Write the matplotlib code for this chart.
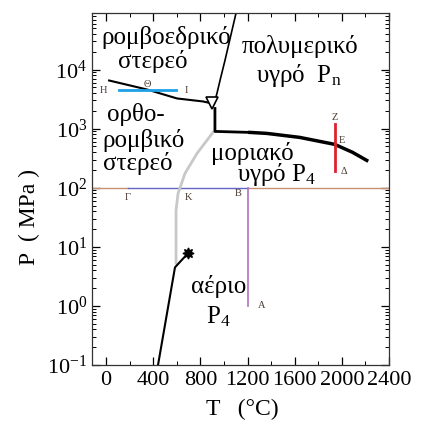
import numpy as np
import matplotlib
matplotlib.use('Agg')
import matplotlib.pyplot as plt
from matplotlib.ticker import MultipleLocator, LogLocator, NullFormatter

plt.rcParams['font.family'] = ['Liberation Serif', 'DejaVu Serif']
plt.rcParams['mathtext.fontset'] = 'custom'
plt.rcParams['mathtext.rm'] = 'Liberation Serif'
plt.rcParams['mathtext.it'] = 'Liberation Serif:italic'

# phase boundaries, T in degC, P in MPa
rhombo_T = [25, 347, 601, 822, 898]
rhombo_P = [6520, 4590, 3240, 2880, 2670]

poly_T = [1101, 1008, 966, 940, 923]
poly_P = [88300, 14200, 6520, 3940, 2990]

liq_T = [923, 923, 1220, 1364, 1643, 1940, 2092, 2211]
liq_P = [2190, 897, 863, 830, 710, 541, 396, 290]

grey_T = [906, 771, 669, 610, 593, 593]
grey_P = [863, 381, 175, 80, 41.5, 5.3]

vap_T = [440, 584, 695]
vap_P = [0.1, 4.5, 7.8]

triple_T, triple_P = 898, 2670
crit_T, crit_P = 695, 7.8

# path segments
cyan_T = [110, 593]
cyan_P = [4420, 4420]
iso_P = 100
iso_T1, iso_T2 = 186, 1200
vert_T = 1200
vert_P = [1, 100]
red_T = 1940
red_P = [189, 1180]

letters = ['Η', 'Θ', 'Ι', 'Γ', 'Κ', 'Β', 'Α', 'Ζ', 'Ε', 'Δ']
letters_T = [-25, 347, 678, 186, 695, 1118, 1321, 1940, 1999, 2016]
letters_P = [4420, 5580, 4420, 69, 69, 80, 1.0, 1545, 632, 189]

fig = plt.figure(figsize=(4.27, 4.23), dpi=100)
ax = fig.add_axes([0.2155, 0.137, 0.6955, 0.832])
ax.set_yscale('log')
ax.set_xlim(-120, 2400)
ax.set_ylim(0.1, 9e4)

# isobar at 100 MPa in three pieces
ax.plot([-120, iso_T1], [iso_P, iso_P], color='#c8906e', lw=1)
ax.plot([iso_T1, iso_T2], [iso_P, iso_P], color='#6464c8', lw=1)
ax.plot([iso_T2, 2400], [iso_P, iso_P], color='#c8906e', lw=1)
ax.plot([vert_T, vert_T], vert_P, color='#b070c0', lw=1.2)

ax.plot(grey_T, grey_P, color='#c8c8c8', lw=2)
ax.plot(rhombo_T, rhombo_P, color='black', lw=1.5)
ax.plot(poly_T, poly_P, color='black', lw=1.2)
ax.plot(liq_T[:3], liq_P[:3], color='black', lw=2)
ax.plot(liq_T[2:], liq_P[2:], color='black', lw=2.5)
ax.plot(vap_T, vap_P, color='black', lw=1.5)

ax.plot(cyan_T, cyan_P, color='#1ea0e6', lw=2)
ax.plot([red_T, red_T], red_P, color='#e02030', lw=2)

ax.plot(triple_T, triple_P, marker='v', ms=9, mfc='white', mec='black', mew=1.2)
ax.plot(crit_T, crit_P, marker=(8, 1, 0), ms=8, color='black')

for s, t, p in zip(letters, letters_T, letters_P):
    ax.text(t, p, s, fontsize=7.5, color='#4a3a30', ha='center', va='center')

big = 18
ax.text(508, 27500, 'ρομβοεδρικό', fontsize=big, ha='center', va='baseline')
ax.text(398, 10800, 'στερεό', fontsize=big, ha='center', va='baseline')
ax.text(8, 1325, 'ορθο-', fontsize=big, ha='left', va='baseline')
ax.text(-34, 481, 'ρομβικό', fontsize=big, ha='left', va='baseline')
ax.text(-25, 197, 'στερεό', fontsize=big, ha='left', va='baseline')
ax.text(1643, 19400, 'πολυμερικό', fontsize=big, ha='center', va='baseline')
ax.text(1635, 6030, 'υγρό  P$_\\mathrm{n}$', fontsize=big, ha='center', va='baseline')
ax.text(1237, 295, 'μοριακό', fontsize=big, ha='center', va='baseline')
ax.text(1450, 128, 'υγρό P$_4$', fontsize=big, ha='center', va='baseline')
ax.text(957, 1.64, 'αέριο', fontsize=big, ha='center', va='baseline')
ax.text(949, 0.51, 'P$_4$', fontsize=big, ha='center', va='baseline')

ax.xaxis.set_major_locator(MultipleLocator(400))
ax.xaxis.set_minor_locator(MultipleLocator(200))
ax.yaxis.set_major_locator(LogLocator(base=10, numticks=10))
ax.yaxis.set_minor_locator(LogLocator(base=10, subs=np.arange(2, 10), numticks=20))
ax.yaxis.set_minor_formatter(NullFormatter())
ax.tick_params(which='both', direction='in', top=True, right=True, labelsize=16)
ax.tick_params(which='major', length=6, width=0.9)
ax.tick_params(which='minor', length=3, width=0.7)
ax.tick_params(axis='x', pad=4)
for sp in ax.spines.values():
    sp.set_linewidth(0.9)
    sp.set_color('#333333')

ax.set_xlabel('T   (°C)', fontsize=17)
ax.set_ylabel('P  ( MPa )', fontsize=17)
ax.xaxis.set_label_coords(0.505, -0.095)
ax.yaxis.set_label_coords(-0.175, 0.42)

fig.savefig('out.png', dpi=100)
